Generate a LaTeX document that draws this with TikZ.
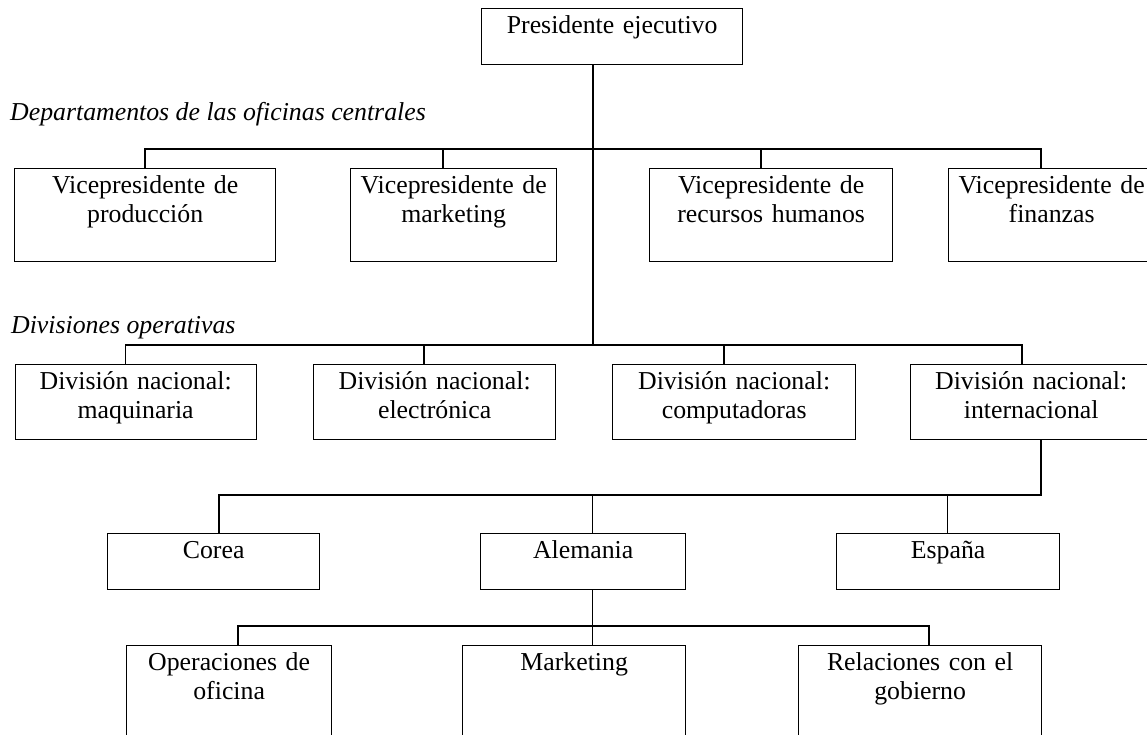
\documentclass[tikz,border=0pt]{standalone}
\usepackage{fontspec}
\setmainfont{Liberation Serif}
\begin{document}
\begin{tikzpicture}[x=1pt,y=-1pt,
  box/.style={draw, line width=1.3pt, inner sep=0pt, anchor=north west, align=center,
    text height=25pt, font=\fontsize{25.8pt}{29pt}\selectfont},
  conn/.style={line width=1.3pt},
  lab/.style={anchor=base west, inner sep=0pt, font=\fontsize{25.8pt}{29pt}\selectfont\itshape}]
\useasboundingbox (0,0) rectangle (1147,734);
% top
\node[box, text width=261pt, text depth=31pt] (pres) at (481,8) {Presidente ejecutivo};
% labels
\node[lab] (labdep) at (10,120) {Departamentos de las oficinas centrales};
\node[lab] (labdiv) at (11,333) {Divisiones operativas};
% VP row
\node[box, text width=261pt, text depth=68pt] (vp1) at (14,168) {Vicepresidente de\\producción};
\node[box, text width=206pt, text depth=68pt] (vp2) at (350,168) {Vicepresidente de\\marketing};
\node[box, text width=243pt, text depth=68pt] (vp3) at (649,168) {Vicepresidente de\\recursos humanos};
\node[box, text width=206pt, text depth=68pt] (vp4) at (948,168) {Vicepresidente de\\finanzas};
% division row
\node[box, text width=241pt, text depth=50pt] (div1) at (14.5,364) {División nacional:\\maquinaria};
\node[box, text width=242pt, text depth=50pt] (div2) at (313,364) {División nacional:\\electrónica};
\node[box, text width=243pt, text depth=50pt] (div3) at (612,364) {División nacional:\\computadoras};
\node[box, text width=241pt, text depth=50pt] (div4) at (910,364) {División nacional:\\internacional};
% countries
\node[box, text width=212pt, text depth=31pt] (cor) at (107,533) {Corea};
\node[box, text width=205pt, text depth=31pt] (ale) at (480,533) {Alemania};
\node[box, text width=223pt, text depth=31pt] (esp) at (836,533) {España};
% bottom
\node[box, text width=205pt, text depth=85pt] (ops) at (126,645) {Operaciones de\\oficina};
\node[box, text width=223pt, text depth=85pt] (mkt) at (462,645) {Marketing};
\node[box, text width=243pt, text depth=85pt] (rel) at (798,645) {Relaciones con el\\gobierno};
% junction coordinates
\coordinate (vb1) at (145,149);
\coordinate (vb2) at (443,149);
\coordinate (vb3) at (761,149);
\coordinate (vb4) at (1041,149);
\coordinate (tr) at (593,345);
\coordinate (db1) at (125.5,345);
\coordinate (db2) at (424,345);
\coordinate (db3) at (724,345);
\coordinate (db4) at (1022,345);
\coordinate (cb0) at (1041,495);
\coordinate (cb1) at (219,495);
\coordinate (cb2) at (592.5,495);
\coordinate (cb3) at (947.5,495);
\coordinate (ob1) at (238,626);
\coordinate (ob2) at (592.5,626);
\coordinate (ob3) at (929,626);
% connectors
\draw[conn] (pres.south -| tr) -- (tr);
\draw[conn] (vp1.north -| vb1) -- (vb1) -- (vb4) -- (vp4.north -| vb4);
\draw[conn] (vb2) -- (vp2.north -| vb2);
\draw[conn] (vb3) -- (vp3.north -| vb3);
\draw[conn] (div1.north -| db1) -- (db1) -- (db4) -- (div4.north -| db4);
\draw[conn] (db2) -- (div2.north -| db2);
\draw[conn] (db3) -- (div3.north -| db3);
\draw[conn] (div4.south -| cb0) -- (cb0) -- (cb1) -- (cor.north -| cb1);
\draw[conn] (cb2) -- (ale.north -| cb2);
\draw[conn] (cb3) -- (esp.north -| cb3);
\draw[conn] (ops.north -| ob1) -- (ob1) -- (ob3) -- (rel.north -| ob3);
\draw[conn] (ale.south -| ob2) -- (mkt.north -| ob2);
\end{tikzpicture}
\end{document}
